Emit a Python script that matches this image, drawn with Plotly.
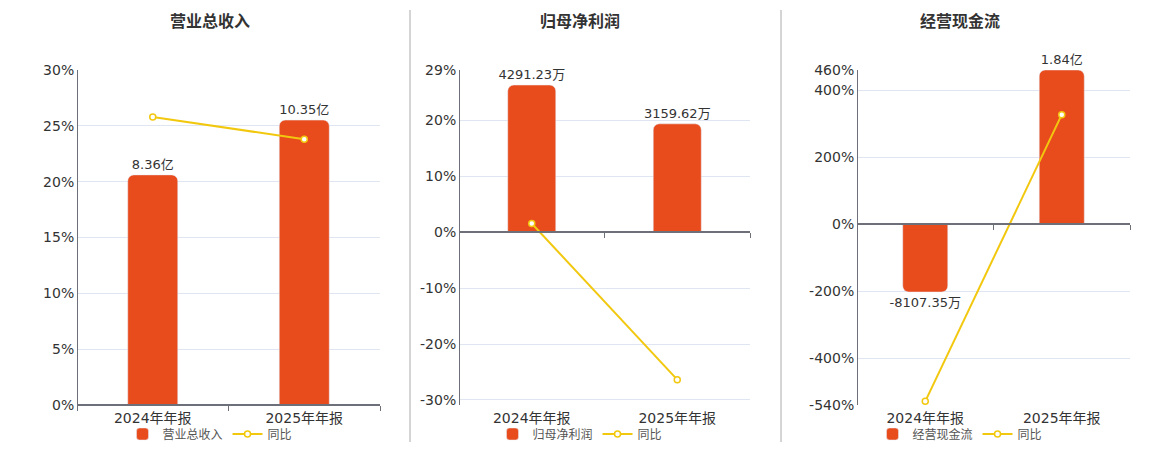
import plotly.graph_objects as go

# ---- data
periods = ['2024年年报', '2025年年报']

titles = ['营业总收入', '归母净利润', '经营现金流']

revenue = [8.36, 10.35]                # 亿
revenue_text = ['8.36亿', '10.35亿']
revenue_yoy = [25.8, 23.8]             # %

profit = [4291.23, 3159.62]            # 万
profit_text = ['4291.23万', '3159.62万']
profit_yoy = [1.56, -26.37]            # %

cashflow = [-8107.35, 18400.0]         # 万
cashflow_text = ['-8107.35万', '1.84亿']
cashflow_yoy = [-529.0, 326.6]         # %

# % axis ticks per panel
pct_ticks = [
    [0, 5, 10, 15, 20, 25, 30],
    [-30.9, -30, -20, -10, 0, 10, 20, 29],
    [-540, -400, -200, 0, 200, 400, 460],
]
pct_ticktext = [
    ['0%', '5%', '10%', '15%', '20%', '25%', '30%'],
    ['', '-30%', '-20%', '-10%', '0%', '10%', '20%', '29%'],
    ['-540%', '-400%', '-200%', '0%', '200%', '400%', '460%'],
]
# top of hidden bar axis per panel
bar_top = [12.17, 4730.0, 18400.0]

# ---- styling
BAR_COLOR = '#E84B1C'
LINE_COLOR = '#F2C80F'
AXIS_COLOR = '#6E7079'
GRID_COLOR = '#E0E6F1'
TEXT_COLOR = '#333333'
FONT = 'DejaVu Sans, Noto Sans CJK SC, sans-serif'

# page is 1160x450, body has an 8px margin -> figure sits at (8, 8)
PAGE_W, PAGE_H, OFF = 1160, 450, 8
W, H = PAGE_W - 2 * OFF, PAGE_H - 2 * OFF


def px(x):
    return (x - OFF) / W


def py(y):
    return 1 - (y - OFF) / H


x_domains = [[px(77), px(380)], [px(459), px(750)], [px(857), px(1130)]]
y_domain = [py(405), py(70)]
centers = [px(210), px(580), px(960)]

panels = [
    (revenue, revenue_text, revenue_yoy),
    (profit, profit_text, profit_yoy),
    (cashflow, cashflow_text, cashflow_yoy),
]

fig = go.Figure()
layout = {}

for i, (bars, bar_text, yoy) in enumerate(panels):
    n = i + 1
    m = i + 4
    lg = 'legend' if n == 1 else 'legend%d' % n
    xs = '' if n == 1 else str(n)

    pmin, pmax = pct_ticks[i][0], pct_ticks[i][-1]
    zero_frac = (0 - pmin) / (pmax - pmin)
    btop = bar_top[i]
    bbot = -btop * (0 - pmin) / pmax
    zero_paper = y_domain[0] + (y_domain[1] - y_domain[0]) * zero_frac

    fig.add_trace(go.Bar(
        x=periods, y=bars, text=bar_text, name=titles[i],
        xaxis='x' + xs, yaxis='y' + xs,
        marker=dict(color=BAR_COLOR, cornerradius=6),
        width=0.33,
        textposition='outside', cliponaxis=False, constraintext='none',
        textfont=dict(size=13, color=TEXT_COLOR),
        legend=lg, hoverinfo='skip',
    ))
    fig.add_trace(go.Scatter(
        x=periods, y=yoy, name='同比', mode='lines+markers',
        xaxis='x%d' % m, yaxis='y%d' % m,
        line=dict(color=LINE_COLOR, width=2),
        marker=dict(symbol='circle', size=6, color='white',
                    line=dict(color=LINE_COLOR, width=1.5)),
        cliponaxis=False,
        legend=lg, hoverinfo='skip',
    ))

    # main x axis: line + boundary ticks at zero
    layout['xaxis' + xs] = dict(
        domain=x_domains[i], anchor='free', position=zero_paper,
        type='category', range=[-0.5, 1.5],
        showline=True, linecolor=AXIS_COLOR, linewidth=2,
        ticks='outside', tickson='boundaries', ticklen=5,
        tickcolor=AXIS_COLOR, showticklabels=False,
        showgrid=False, zeroline=False, fixedrange=True,
    )
    # overlay x axis: category labels at bottom
    layout['xaxis%d' % m] = dict(
        overlaying='x' + xs, anchor='free', position=y_domain[0],
        type='category', range=[-0.5, 1.5], side='bottom',
        showline=False, ticks='', showgrid=False, zeroline=False,
        ticklabelstandoff=3,
        tickfont=dict(size=14, color=TEXT_COLOR), fixedrange=True,
    )
    # hidden bar axis
    layout['yaxis' + xs] = dict(
        domain=y_domain, anchor='x' + xs, range=[bbot, btop],
        visible=False, showgrid=False, zeroline=False, fixedrange=True,
    )
    # % axis
    layout['yaxis%d' % m] = dict(
        overlaying='y' + xs, anchor='free', position=x_domains[i][0],
        side='left', range=[pmin, pmax],
        tickmode='array', tickvals=pct_ticks[i], ticktext=pct_ticktext[i],
        showgrid=True, gridcolor=GRID_COLOR, gridwidth=1,
        showline=True, linecolor=AXIS_COLOR, linewidth=1,
        ticks='', zeroline=False,
        tickfont=dict(size=14, color=TEXT_COLOR), fixedrange=True,
    )
    # legend per panel
    layout[lg] = dict(
        orientation='h', x=centers[i], xanchor='center',
        y=py(434), yanchor='middle',
        font=dict(size=12, color='#555555', family=FONT),
        bgcolor='rgba(0,0,0,0)', itemwidth=30,
    )

annotations = []
for i, t in enumerate(titles):
    annotations.append(dict(
        text='<b>%s</b>' % t, x=centers[i], y=py(22),
        xref='paper', yref='paper', showarrow=False,
        xanchor='center', yanchor='middle',
        font=dict(size=16, color=TEXT_COLOR, family=FONT),
    ))

shapes = []
for xp in [px(410), px(781)]:
    shapes.append(dict(
        type='line', xref='paper', yref='paper',
        x0=xp, x1=xp, y0=0, y1=py(10),
        line=dict(color='#AAAAAA', width=1),
    ))

fig.update_layout(
    width=W, height=H,
    margin=dict(l=0, r=0, t=0, b=0, autoexpand=False),
    paper_bgcolor='white', plot_bgcolor='white',
    font=dict(family=FONT, color=TEXT_COLOR),
    showlegend=True,
    annotations=annotations,
    shapes=shapes,
    **layout,
)

fig.write_html("out.html")
